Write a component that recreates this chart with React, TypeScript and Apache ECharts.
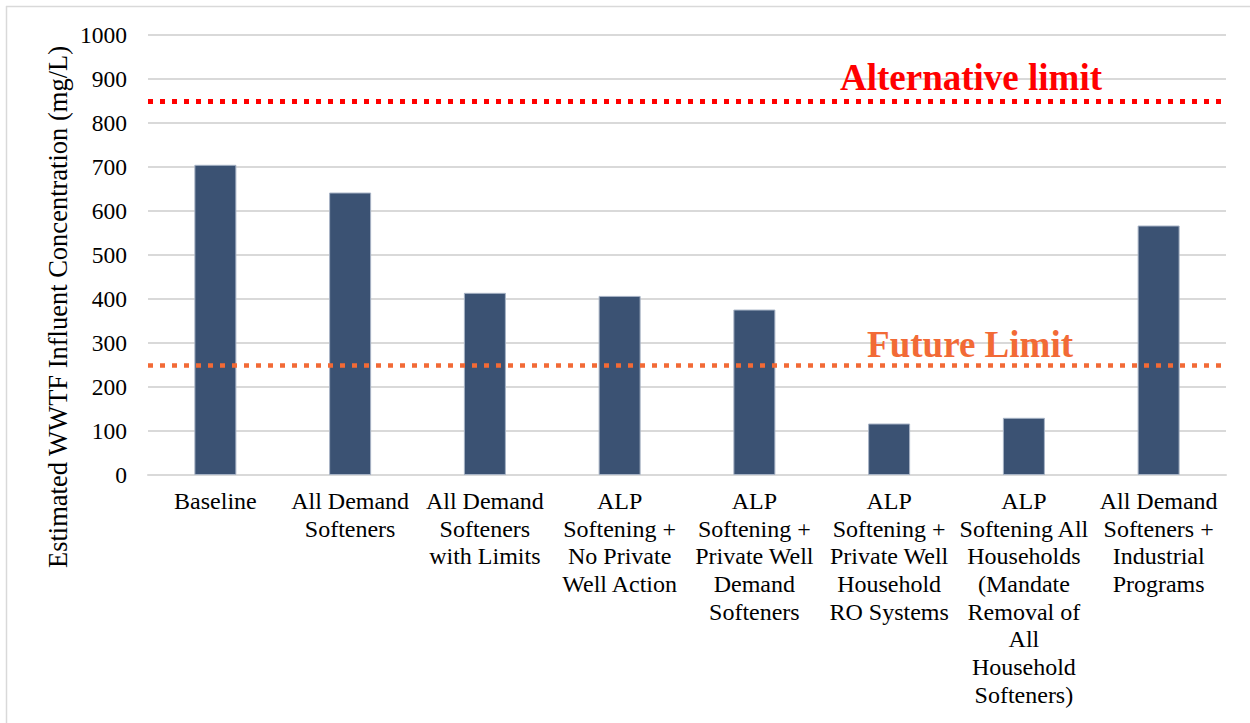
import React, { useEffect, useRef } from "react";
import * as echarts from "echarts";

const categories: string[] = [
  "Baseline",
  "All Demand\nSofteners",
  "All Demand\nSofteners\nwith Limits",
  "ALP\nSoftening +\nNo Private\nWell Action",
  "ALP\nSoftening +\nPrivate Well\nDemand\nSofteners",
  "ALP\nSoftening +\nPrivate Well\nHousehold\nRO Systems",
  "ALP\nSoftening All\nHouseholds\n(Mandate\nRemoval of\nAll\nHousehold\nSofteners)",
  "All Demand\nSofteners +\nIndustrial\nPrograms",
];
const concentrations: number[] = [705, 642, 414, 407, 376, 117, 130, 567];
const alternativeLimit = 850;
const futureLimit = 250;
const yTitle = "Estimated WWTF Influent Concentration (mg/L)";
const FONT = "Liberation Serif";

export default function App() {
  const ref = useRef<HTMLDivElement>(null);
  useEffect(() => {
    if (!ref.current) return;
    const chart = echarts.init(ref.current, undefined, { renderer: "svg" });
    chart.setOption({
      animation: false,
      backgroundColor: "#ffffff",
      grid: { left: 148, right: 24, top: 35, bottom: 248 },
      graphic: [
        { type: "line", shape: { x1: 6, y1: 6.5, x2: 1250, y2: 6.5 }, style: { stroke: "#D9D9D9", lineWidth: 1.5 } },
        { type: "line", shape: { x1: 6.5, y1: 6, x2: 6.5, y2: 723 }, style: { stroke: "#D9D9D9", lineWidth: 1.5 } },
        {
          type: "text",
          x: 58,
          y: 307,
          rotation: Math.PI / 2,
          style: {
            text: yTitle,
            fontSize: 26.5,
            fontFamily: FONT,
            fontWeight: "normal",
            fill: "#000",
            align: "center",
            verticalAlign: "middle",
          },
        },
      ],
      xAxis: {
        type: "category",
        data: categories,
        axisLine: { show: true, lineStyle: { color: "#D9D9D9", width: 2 } },
        axisTick: { show: false },
        axisLabel: {
          interval: 0,
          margin: 12,
          fontSize: 24,
          lineHeight: 27.7,
          color: "#000",
          fontFamily: FONT,
          fontWeight: "normal",
          align: "center",
        },
      },
      yAxis: {
        type: "value",
        min: 0,
        max: 1000,
        interval: 100,
        axisLine: { show: false },
        axisTick: { show: false },
        splitLine: { lineStyle: { color: "#D9D9D9", width: 2 } },
        axisLabel: {
          fontSize: 23.5,
          color: "#000",
          margin: 21,
          fontFamily: FONT,
          fontWeight: "normal",
          formatter: (v: number) => String(v),
        },
      },
      series: [
        {
          type: "bar",
          data: concentrations,
          barWidth: 42,
          itemStyle: { color: "#3B5273", borderColor: "#A7B3C5", borderWidth: 1 },
          markLine: {
            silent: true,
            symbol: "none",
            data: [
              {
                yAxis: alternativeLimit,
                lineStyle: { color: "#FF0000", width: 5, type: [5, 7] },
                label: {
                  show: true,
                  formatter: "Alternative limit",
                  position: "insideEndTop",
                  distance: [124, 5],
                  color: "#FF0000",
                  fontSize: 37,
                  fontWeight: "bold",
                  fontFamily: FONT,
                },
              },
              {
                yAxis: futureLimit,
                lineStyle: { color: "#F26A36", width: 4.5, type: [5, 7] },
                label: {
                  show: true,
                  formatter: "Future Limit",
                  position: "insideEndTop",
                  distance: [153, 2],
                  color: "#F26A36",
                  fontSize: 37,
                  fontWeight: "bold",
                  fontFamily: FONT,
                },
              },
            ],
          },
        },
      ],
    });
    return () => chart.dispose();
  }, []);
  return (
    <div
      ref={ref}
      style={{ position: "absolute", left: 0, top: 0, width: 1250, height: 723 }}
    />
  );
}
